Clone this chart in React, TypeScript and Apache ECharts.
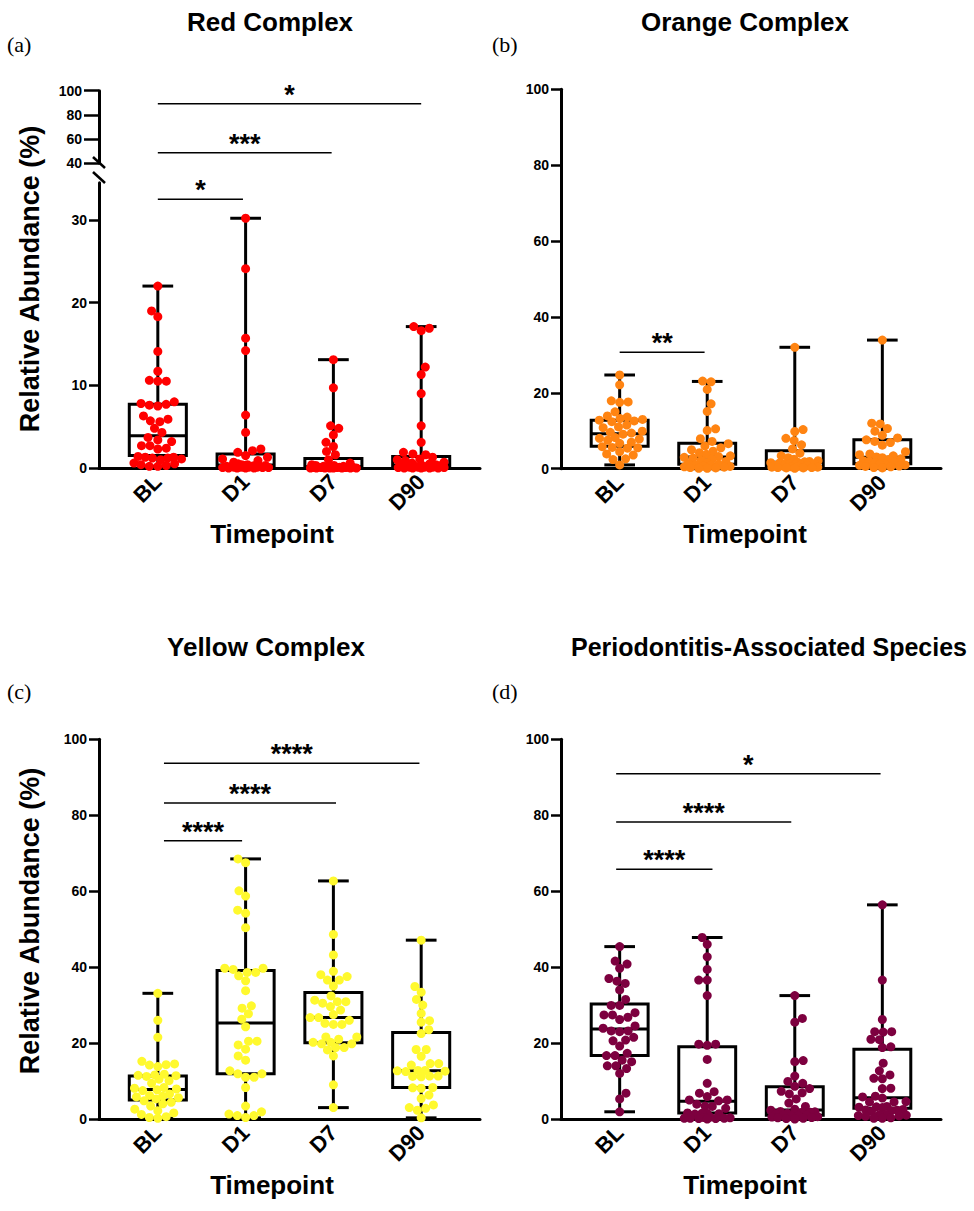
import React, { useEffect, useRef } from 'react';
import * as echarts from 'echarts';

// ---------- categories ----------
const CATEGORIES = ['BL', 'D1', 'D7', 'D90'];
const RED_LOWER_TICKS = [0, 10, 20, 30];

// ---------- (a) Red Complex ----------
const redBL = [22.0, 19.0, 18.3, 14.1, 11.7, 10.6, 10.5, 10.5, 8.0, 7.8, 7.7, 7.6, 7.5, 6.3, 5.9, 5.7, 5.6, 4.8, 4.3, 3.7, 3.4, 3.2, 2.7, 2.7, 2.4, 2.3, 1.4, 1.3, 1.3, 1.2, 1.2, 1.1, 1.0, 0.6, 0.5, 0.4, 0.3, 0.2, 0.2];
const redD1 = [30.2, 24.1, 15.7, 14.2, 6.4, 4.3, 2.3, 2.1, 1.9, 1.5, 1.3, 1.1, 0.9, 0.7, 0.5, 0.4, 0.4, 0.3, 0.3, 0.3, 0.2, 0.2, 0.2, 0.2, 0.1, 0.1, 0.1, 0.1, 0.1, 0.05, 0.05, 0.05, 0.0, 0.0, 0.0, 0.0];
const redD7 = [13.1, 9.7, 5.1, 4.8, 4.0, 3.1, 2.6, 2.0, 1.6, 1.0, 0.6, 0.4, 0.3, 0.3, 0.2, 0.2, 0.2, 0.1, 0.1, 0.1, 0.1, 0.1, 0.05, 0.05, 0.05, 0.05, 0.0, 0.0, 0.0, 0.0, 0.0, 0.0, 0.0, 0.0];
const redD90 = [17.1, 16.9, 16.6, 12.2, 11.3, 9.0, 5.1, 3.1, 1.9, 1.7, 1.6, 1.3, 1.1, 1.0, 0.9, 0.7, 0.6, 0.5, 0.4, 0.4, 0.3, 0.3, 0.2, 0.2, 0.2, 0.1, 0.1, 0.1, 0.1, 0.05, 0.05, 0.0, 0.0, 0.0, 0.0, 0.0];
// [min, q1, median, q3, max]
const redBoxes = [[0.2, 1.5, 3.9, 7.7, 22.0], [0, 0.1, 0.35, 1.7, 30.2], [0, 0.05, 0.15, 1.15, 13.1], [0, 0.1, 0.35, 1.4, 17.1]];
const redSigUpper = [[0, 3.0, 89.3], [0, 1.98, 48.8]];
const redSigUpperLabels = ['*', '***'];
const redSigLower = [[0, 0.97, 32.5]];
const redSigLowerLabels = ['*'];

// ---------- (b) Orange Complex ----------
const orangeBL = [24.7, 22.1, 17.9, 17.6, 17.5, 15.0, 13.9, 13.6, 13.2, 13.0, 12.8, 12.6, 12.4, 11.5, 11.0, 10.8, 9.9, 9.6, 9.4, 9.1, 8.2, 8.0, 7.8, 7.5, 7.0, 6.7, 5.8, 5.6, 5.5, 5.4, 4.5, 3.9, 3.6, 2.6, 2.4, 1.0];
const orangeD1 = [23.1, 22.9, 20.9, 17.1, 15.1, 10.5, 10.1, 7.9, 7.2, 6.6, 6.0, 5.5, 5.0, 4.6, 4.2, 3.8, 3.4, 3.2, 3.0, 2.8, 2.5, 2.2, 1.9, 1.6, 1.4, 1.2, 1.0, 0.9, 0.7, 0.6, 0.5, 0.4, 0.3, 0.2, 0.1, 0.1];
const orangeD7 = [32.0, 10.3, 9.8, 8.0, 7.4, 6.3, 5.2, 4.1, 3.4, 2.9, 2.5, 2.1, 1.9, 1.8, 1.7, 1.6, 1.5, 1.4, 1.3, 1.2, 1.1, 1.0, 0.9, 0.8, 0.7, 0.6, 0.5, 0.4, 0.4, 0.3, 0.3, 0.2, 0.2, 0.1];
const orangeD90 = [33.9, 12.0, 11.8, 10.6, 9.9, 8.8, 8.1, 7.6, 7.2, 6.9, 6.2, 4.5, 3.9, 3.7, 3.4, 3.1, 2.9, 2.6, 2.4, 2.1, 1.9, 1.7, 1.5, 1.3, 1.2, 1.0, 0.9, 0.7, 0.6, 0.5, 0.3, 0.2];
const orangeBoxes = [[1.0, 5.9, 9.2, 12.8, 24.7], [0, 1.2, 3.1, 6.7, 23.0], [0.1, 0.5, 1.7, 4.7, 32.0], [0.2, 1.3, 3.0, 7.6, 33.9]];
const orangeSig = [[0, 0.97, 30.7]];
const orangeSigLabels = ['**'];

// ---------- (c) Yellow Complex ----------
const yellowBL = [33.1, 26.0, 21.5, 15.2, 14.5, 14.3, 14.2, 13.8, 11.8, 11.6, 11.5, 11.4, 11.2, 10.5, 10.1, 9.4, 8.3, 8.1, 7.9, 7.7, 7.5, 6.6, 6.2, 6.0, 5.8, 5.6, 5.3, 4.8, 4.4, 4.0, 3.4, 2.6, 2.2, 1.6, 1.2, 0.6, 0.4, 0.2];
const yellowD1 = [68.5, 67.5, 60.1, 58.7, 55.0, 54.2, 50.4, 39.7, 39.7, 39.4, 38.6, 38.6, 37.7, 36.4, 33.8, 29.8, 29.2, 27.7, 26.3, 24.3, 20.5, 20.5, 19.5, 18.4, 16.6, 15.5, 12.7, 11.9, 11.9, 11.0, 11.0, 8.3, 3.4, 1.9, 1.3, 0.9, 0.9, 0.4];
const yellowD7 = [62.7, 48.6, 43.2, 38.9, 38.0, 37.5, 36.6, 36.6, 35.0, 32.4, 31.3, 30.9, 30.9, 30.5, 29.6, 28.7, 27.5, 26.7, 26.7, 26.0, 25.2, 24.9, 24.9, 21.6, 21.6, 21.0, 20.2, 20.2, 19.8, 19.8, 18.8, 18.8, 18.2, 16.6, 9.0, 3.0];
const yellowD90 = [47.1, 34.9, 33.4, 31.5, 30.0, 27.8, 25.9, 25.5, 23.5, 22.5, 18.3, 18.3, 16.5, 14.6, 14.6, 14.2, 12.8, 12.8, 12.7, 12.6, 12.5, 11.3, 11.3, 11.2, 11.1, 8.3, 8.2, 8.1, 6.3, 5.4, 3.7, 3.0, 2.8, 2.3, 0.3];
const yellowBoxes = [[0.2, 5.0, 7.8, 11.3, 33.1], [0.3, 11.9, 25.3, 39.1, 68.5], [3.0, 20.1, 26.7, 33.3, 62.7], [0.3, 8.3, 12.7, 22.8, 47.1]];
const yellowSig = [[0.07, 0.96, 73.3], [0.07, 2.03, 83.2], [0.07, 2.98, 93.7]];
const yellowSigLabels = ['****', '****', '****'];

// ---------- (d) Periodontitis-Associated Species ----------
const perioBL = [45.4, 41.6, 40.8, 39.7, 37.0, 36.3, 35.7, 34.0, 31.5, 29.9, 29.9, 28.0, 27.4, 27.4, 26.8, 26.2, 24.5, 23.9, 23.2, 23.2, 23.0, 21.5, 20.8, 20.6, 19.2, 17.3, 16.7, 16.7, 15.5, 15.1, 14.0, 14.0, 13.3, 12.0, 6.8, 5.3, 1.9];
const perioD1 = [47.8, 46.0, 42.7, 39.4, 36.6, 36.6, 32.5, 19.7, 19.7, 19.4, 15.7, 9.4, 7.2, 6.8, 5.9, 5.0, 5.0, 4.8, 3.9, 3.4, 3.3, 2.8, 1.6, 1.5, 1.5, 1.4, 1.3, 0.5, 0.4, 0.3, 0.2, 0.2, 0.2, 0.1, 0.1, 0.0];
const perioD7 = [32.5, 26.5, 25.5, 15.4, 15.1, 11.3, 9.9, 9.4, 8.6, 8.0, 7.3, 6.9, 6.6, 5.3, 4.2, 3.3, 2.6, 2.3, 2.0, 1.9, 1.8, 1.7, 1.5, 1.4, 1.3, 1.1, 1.0, 0.9, 0.8, 0.6, 0.5, 0.4, 0.3, 0.2, 0.1, 0.0];
const perioD90 = [56.4, 36.6, 26.2, 23.0, 23.0, 22.9, 21.0, 20.9, 19.0, 18.8, 14.7, 12.7, 11.6, 10.7, 10.6, 8.1, 8.0, 6.0, 5.8, 5.5, 4.6, 4.5, 4.5, 3.3, 3.2, 3.1, 3.0, 2.5, 2.4, 2.3, 2.2, 2.0, 1.2, 1.1, 1.0, 0.9, 0.8, 0.7, 0.3, 0.2, 0.2];
const perioBoxes = [[1.9, 16.7, 23.7, 30.3, 45.4], [0, 1.6, 4.7, 19.0, 47.8], [0, 1.0, 2.4, 8.5, 32.5], [0.2, 2.8, 5.6, 18.4, 56.4]];
const perioSig = [[-0.04, 1.06, 65.8], [-0.04, 1.96, 78.2], [-0.04, 2.98, 90.9]];
const perioSigLabels = ['****', '****', '*'];

// ---------- layout constants ----------
const FONT = '"Liberation Sans", Arial, Helvetica, sans-serif';
const X_MIN = -0.67;
const X_MAX = 3.67;
const BOX_HALF = 0.325;
const CAP_HALF = 0.175;
const DOT = 9;

function swarmOffsets(values: number[], pxPerUnit: number, diam: number, maxHalf: number): number[] {
  const order = values.map((_, i) => i).sort((a, b) => values[a] - values[b]);
  const placed: { x: number; y: number }[] = [];
  const out = new Array(values.length).fill(0);
  order.forEach((idx, k) => {
    const y = values[idx] * pxPerUnit;
    let chosen: number | null = null;
    for (const s of [1, 0.85, 0.7, 0.55, 0.42, 0.3]) {
      const d = diam * s;
      const cands = [0];
      placed.forEach((p) => {
        const dy = Math.abs(p.y - y);
        if (dy < d) {
          const dx = Math.sqrt(d * d - dy * dy);
          cands.push(p.x + dx, p.x - dx);
        }
      });
      const ok = cands.filter(
        (c) => Math.abs(c) <= maxHalf + 1e-6 && placed.every((p) => (p.x - c) ** 2 + (p.y - y) ** 2 >= d * d - 1e-3)
      );
      if (ok.length) {
        ok.sort((a, b) => Math.abs(a) - Math.abs(b) || (k % 2 ? a - b : b - a));
        chosen = ok[0];
        break;
      }
    }
    if (chosen === null) {
      let best = 0;
      let bestD = -1;
      for (let c = -maxHalf; c <= maxHalf; c += 1) {
        const md = Math.min(...placed.map((p) => Math.hypot(p.x - c, p.y - y)));
        if (md > bestD) {
          bestD = md;
          best = c;
        }
      }
      chosen = best;
    }
    placed.push({ x: chosen, y });
    out[idx] = chosen;
  });
  return out;
}

function swarmData(groups: number[][], pxPerY: number, pxPerX: number) {
  const data: number[][] = [];
  groups.forEach((vals, cat) => {
    const off = swarmOffsets(vals, pxPerY, DOT - 0.5, 24);
    vals.forEach((v, i) => data.push([cat + off[i] / pxPerX, v]));
  });
  return data;
}

function boxSeries(boxes: number[][], gi: number) {
  return {
    type: 'custom',
    xAxisIndex: gi,
    yAxisIndex: gi,
    z: 2,
    clip: false,
    data: boxes.map((b, i) => [i, ...b]),
    renderItem: (_params: any, api: any) => {
      const c = api.value(0);
      const mn = api.value(1), q1 = api.value(2), md = api.value(3), q3 = api.value(4), mx = api.value(5);
      const tl = api.coord([c - BOX_HALF, q3]);
      const br = api.coord([c + BOX_HALF, q1]);
      const cx = api.coord([c, mx])[0];
      const yMax = api.coord([c, mx])[1];
      const yMin = api.coord([c, mn])[1];
      const yMed = api.coord([c, md])[1];
      const capL = api.coord([c - CAP_HALF, mx])[0];
      const capR = api.coord([c + CAP_HALF, mx])[0];
      const st = { stroke: '#000', lineWidth: 3, fill: null };
      return {
        type: 'group',
        children: [
          { type: 'line', shape: { x1: cx, y1: yMax, x2: cx, y2: tl[1] }, style: st },
          { type: 'line', shape: { x1: cx, y1: br[1], x2: cx, y2: yMin }, style: st },
          { type: 'line', shape: { x1: capL, y1: yMax, x2: capR, y2: yMax }, style: st },
          { type: 'line', shape: { x1: capL, y1: yMin, x2: capR, y2: yMin }, style: st },
          { type: 'rect', shape: { x: tl[0], y: tl[1], width: br[0] - tl[0], height: br[1] - tl[1] }, style: { stroke: '#000', lineWidth: 3, fill: 'none' } },
          { type: 'line', shape: { x1: tl[0], y1: yMed, x2: br[0], y2: yMed }, style: st },
        ],
      };
    },
  };
}

function sigSeries(items: number[][], labels: string[], gi: number) {
  return {
    type: 'custom',
    xAxisIndex: gi,
    yAxisIndex: gi,
    z: 5,
    clip: false,
    data: items,
    renderItem: (params: any, api: any) => {
      const s = api.coord([api.value(0), api.value(2)]);
      const e = api.coord([api.value(1), api.value(2)]);
      return {
        type: 'group',
        children: [
          { type: 'line', shape: { x1: s[0], y1: s[1], x2: e[0], y2: e[1] }, style: { stroke: '#000', lineWidth: 1.5 } },
          {
            type: 'text',
            x: (s[0] + e[0]) / 2,
            y: s[1] - 9,
            style: {
              text: labels[params.dataIndex],
              fill: '#000',
              font: 'bold 27px ' + FONT,
              align: 'center',
              verticalAlign: 'middle',
              textAlign: 'center',
              textVerticalAlign: 'middle',
            },
          },
        ],
      };
    },
  };
}

function scatterSeries(data: number[][], color: string, gi: number) {
  return {
    type: 'scatter',
    xAxisIndex: gi,
    yAxisIndex: gi,
    z: 3,
    clip: false,
    symbol: 'circle',
    symbolSize: DOT,
    itemStyle: { color, opacity: 1 },
    data,
  };
}

const GRIDS = [
  { left: 99, top: 90.7, width: 381, height: 72.6 }, // (a) upper
  { left: 99, top: 182.7, width: 381, height: 285.3 }, // (a) lower
  { left: 561, top: 89.3, width: 380, height: 379.4 }, // (b)
  { left: 99, top: 739.3, width: 381, height: 379.7 }, // (c)
  { left: 561, top: 739.3, width: 380, height: 379.7 }, // (d)
];
const Y_RANGES = [
  { min: 40, max: 100, interval: 20 },
  { min: 0, max: 34.5, interval: 10 },
  { min: 0, max: 100, interval: 20 },
  { min: 0, max: 100, interval: 20 },
  { min: 0, max: 100, interval: 20 },
];

function buildOption() {
  const pxX = (gi: number) => GRIDS[gi].width / (X_MAX - X_MIN);
  const pxY = (gi: number) => GRIDS[gi].height / (Y_RANGES[gi].max - Y_RANGES[gi].min);

  const xAxes = GRIDS.map((_, gi) => ({
    type: 'value',
    gridIndex: gi,
    min: X_MIN,
    max: X_MAX,
    show: gi !== 0,
    splitLine: { show: false },
    axisTick: { show: false },
    axisLine: { show: gi !== 0, onZero: false, lineStyle: { color: '#000', width: 3 } },
    axisLabel: {
      show: gi !== 0,
      customValues: [0, 1, 2, 3],
      formatter: (v: number) => CATEGORIES[Math.round(v)] ?? '',
      rotate: 45,
      margin: 10,
      color: '#000',
      fontSize: 22,
      fontWeight: 'bold',
      fontFamily: FONT,
    },
  }));

  const yAxes = GRIDS.map((_, gi) => {
    const custom = gi === 1 ? { customValues: RED_LOWER_TICKS } : {};
    return {
      type: 'value',
      gridIndex: gi,
      min: Y_RANGES[gi].min,
      max: Y_RANGES[gi].max,
      interval: Y_RANGES[gi].interval,
      splitLine: { show: false },
      axisLine: { show: true, onZero: false, lineStyle: { color: '#000', width: 3 } },
      axisTick: { show: true, ...custom, length: gi === 0 ? 15 : 10, lineStyle: { color: '#000', width: 2.5 } },
      axisLabel: {
        ...custom,
        margin: gi === 0 ? 17 : 12,
        color: '#000',
        fontSize: 14,
        fontWeight: 'bold',
        fontFamily: FONT,
      },
    };
  });

  const series: any[] = [
    sigSeries(redSigUpper, redSigUpperLabels, 0),
    boxSeries(redBoxes, 1),
    scatterSeries(swarmData([redBL, redD1, redD7, redD90], pxY(1), pxX(1)), '#FF0000', 1),
    sigSeries(redSigLower, redSigLowerLabels, 1),
    boxSeries(orangeBoxes, 2),
    scatterSeries(swarmData([orangeBL, orangeD1, orangeD7, orangeD90], pxY(2), pxX(2)), '#FF8412', 2),
    sigSeries(orangeSig, orangeSigLabels, 2),
    boxSeries(yellowBoxes, 3),
    scatterSeries(swarmData([yellowBL, yellowD1, yellowD7, yellowD90], pxY(3), pxX(3)), '#FFF92E', 3),
    sigSeries(yellowSig, yellowSigLabels, 3),
    boxSeries(perioBoxes, 4),
    scatterSeries(swarmData([perioBL, perioD1, perioD7, perioD90], pxY(4), pxX(4)), '#7D003F', 4),
    sigSeries(perioSig, perioSigLabels, 4),
  ];

  const txt = (text: string, x: number, y: number, size: number, extra: any = {}) => ({
    type: 'text',
    x,
    y,
    ...extra,
    style: {
      text,
      fill: '#000',
      font: `bold ${size}px ${FONT}`,
      align: 'center',
      verticalAlign: 'middle',
      textAlign: 'center',
      textVerticalAlign: 'middle',
    },
  });
  const serif = (text: string, x: number, y: number) => ({
    type: 'text',
    x,
    y,
    style: {
      text,
      fill: '#000',
      font: '22px "Liberation Serif", "Times New Roman", serif',
      align: 'left',
      verticalAlign: 'middle',
      textAlign: 'left',
      textVerticalAlign: 'middle',
    },
  });

  const graphic: any[] = [
    txt('Red Complex', 270, 22, 26),
    txt('Orange Complex', 745, 22, 26),
    txt('Yellow Complex', 266, 647, 26),
    txt('Periodontitis-Associated Species', 769, 647, 25),
    serif('(a)', 7, 44),
    serif('(b)', 492, 44),
    serif('(c)', 7, 691),
    serif('(d)', 492, 691),
    txt('Relative Abundance (%)', 30, 279, 27, { rotation: Math.PI / 2 }),
    txt('Relative Abundance (%)', 30, 921, 27, { rotation: Math.PI / 2 }),
    txt('Timepoint', 272, 534, 26),
    txt('Timepoint', 745, 534, 26),
    txt('Timepoint', 272, 1185, 26),
    txt('Timepoint', 745, 1185, 26),
    // axis break marks for (a)
    { type: 'line', shape: { x1: 93, y1: 157, x2: 105, y2: 168 }, style: { stroke: '#000', lineWidth: 2.5 } },
    { type: 'line', shape: { x1: 93, y1: 172, x2: 105, y2: 183 }, style: { stroke: '#000', lineWidth: 2.5 } },
  ];

  return {
    animation: false,
    backgroundColor: '#fff',
    textStyle: { fontFamily: FONT },
    grid: GRIDS.map((g) => ({ ...g, containLabel: false })),
    xAxis: xAxes,
    yAxis: yAxes,
    series,
    graphic,
  };
}

export default function App() {
  const ref = useRef<HTMLDivElement>(null);
  useEffect(() => {
    document.body.style.margin = '0';
    if (!ref.current) return;
    const chart = echarts.init(ref.current, undefined, { renderer: 'svg' });
    chart.setOption(buildOption() as any);
    return () => chart.dispose();
  }, []);
  return <div ref={ref} style={{ position: 'absolute', left: 0, top: 0, width: 974, height: 1211 }} />;
}
